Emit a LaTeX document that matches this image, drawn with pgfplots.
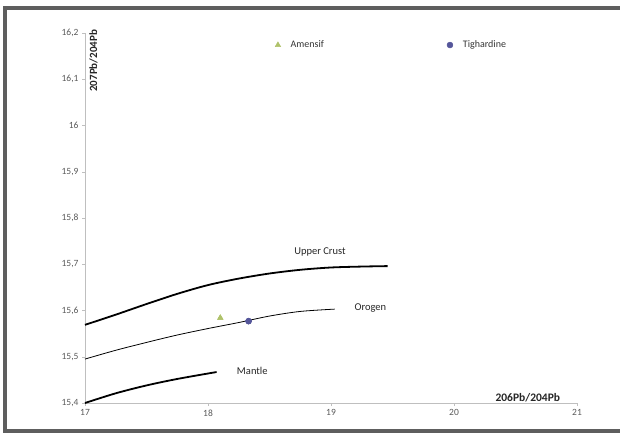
\documentclass[border=0pt]{standalone}
\usepackage{pgfplots}
\pgfplotsset{compat=1.18}
\usepackage{fontspec}
\setmainfont{Carlito}
\definecolor{tickgray}{HTML}{595959}
\definecolor{axgray}{HTML}{BFBFBF}
\definecolor{amgreen}{HTML}{AFC26A}
\definecolor{tigblue}{HTML}{55569A}
\definecolor{framegray}{HTML}{5E5E5E}
\begin{document}
\begin{tikzpicture}[x=1pt,y=1pt]
\useasboundingbox (-85,-34) rectangle (535,403);
\begin{axis}[
  scale only axis, width=492pt, height=370pt,
  xmin=17, xmax=21, ymin=15.4, ymax=16.2,
  axis lines*=left,
  axis line style={axgray, line width=0.8pt},
  xtick={17,18,19,20,21},
  ytick={15.4,15.5,15.6,15.7,15.8,15.9,16,16.1,16.2},
  tick align=outside, major tick length=3pt,
  tick style={axgray},
  ticklabel style={font=\fontsize{9.5}{10}\selectfont, text=tickgray},
  /pgf/number format/assume math mode=true,
  /pgf/number format/use comma,
  /pgf/number format/precision=1,
  yticklabel style={/pgf/number format/fixed},
  clip=false,
  legend columns=2,
  legend style={draw=none, fill=none, at={(axis cs:18.52,16.174)}, anchor=west,
    font=\fontsize{10}{12}\selectfont, text=black!80,
    /tikz/every odd column/.append style={column sep=8pt},
    /tikz/every even column/.append style={column sep=121pt}},
  legend cell align=left,
]
\addplot[only marks, mark=triangle*, mark size=3.2pt, color=amgreen] coordinates {(18.10,15.584)};
\addlegendentry{Amensif}
\addplot[only marks, mark=*, mark size=3pt, color=tigblue] coordinates {(18.33,15.577)};
\addlegendentry{Tighardine}
\addplot[black, line width=1.8pt, smooth, forget plot] coordinates {
 (17,15.569) (17.25,15.591) (17.5,15.614) (17.75,15.636) (18,15.655) (18.25,15.669)
 (18.5,15.680) (18.75,15.688) (19,15.693) (19.25,15.695) (19.46,15.696)};
\addplot[black, line width=0.8pt, smooth, forget plot] coordinates {
 (17,15.495) (17.25,15.514) (17.5,15.531) (17.75,15.547) (18,15.561) (18.25,15.574)
 (18.5,15.588) (18.75,15.598) (19.03,15.603)};
\addplot[black, line width=1.8pt, smooth, forget plot] coordinates {
 (17,15.400) (17.25,15.421) (17.5,15.438) (17.75,15.452) (18.07,15.467)};
% redraw markers on top
\addplot[only marks, mark=triangle*, mark size=3.2pt, color=amgreen, forget plot] coordinates {(18.10,15.584)};
\addplot[only marks, mark=*, mark size=3pt, color=tigblue, forget plot] coordinates {(18.33,15.577)};
\node[font=\fontsize{10.5}{12}\selectfont, text=black!85] at (axis cs:18.91,15.726) {Upper Crust};
\node[font=\fontsize{10.5}{12}\selectfont, text=black!85] at (axis cs:19.32,15.605) {Orogen};
\node[font=\fontsize{10.5}{12}\selectfont, text=black!85] at (axis cs:18.36,15.469) {Mantle};
\node[font=\bfseries\fontsize{11.5}{12}\selectfont, text=black!85] at (axis cs:20.6,15.412) {206Pb/204Pb};
\node[font=\bfseries\fontsize{11}{12}\selectfont, text=black!85, rotate=90] at (axis cs:17.07,16.14) {207Pb/204Pb};
\end{axis}
\draw[framegray, line width=3.5pt] (-80,-28) rectangle (545,395);
\end{tikzpicture}
\end{document}
